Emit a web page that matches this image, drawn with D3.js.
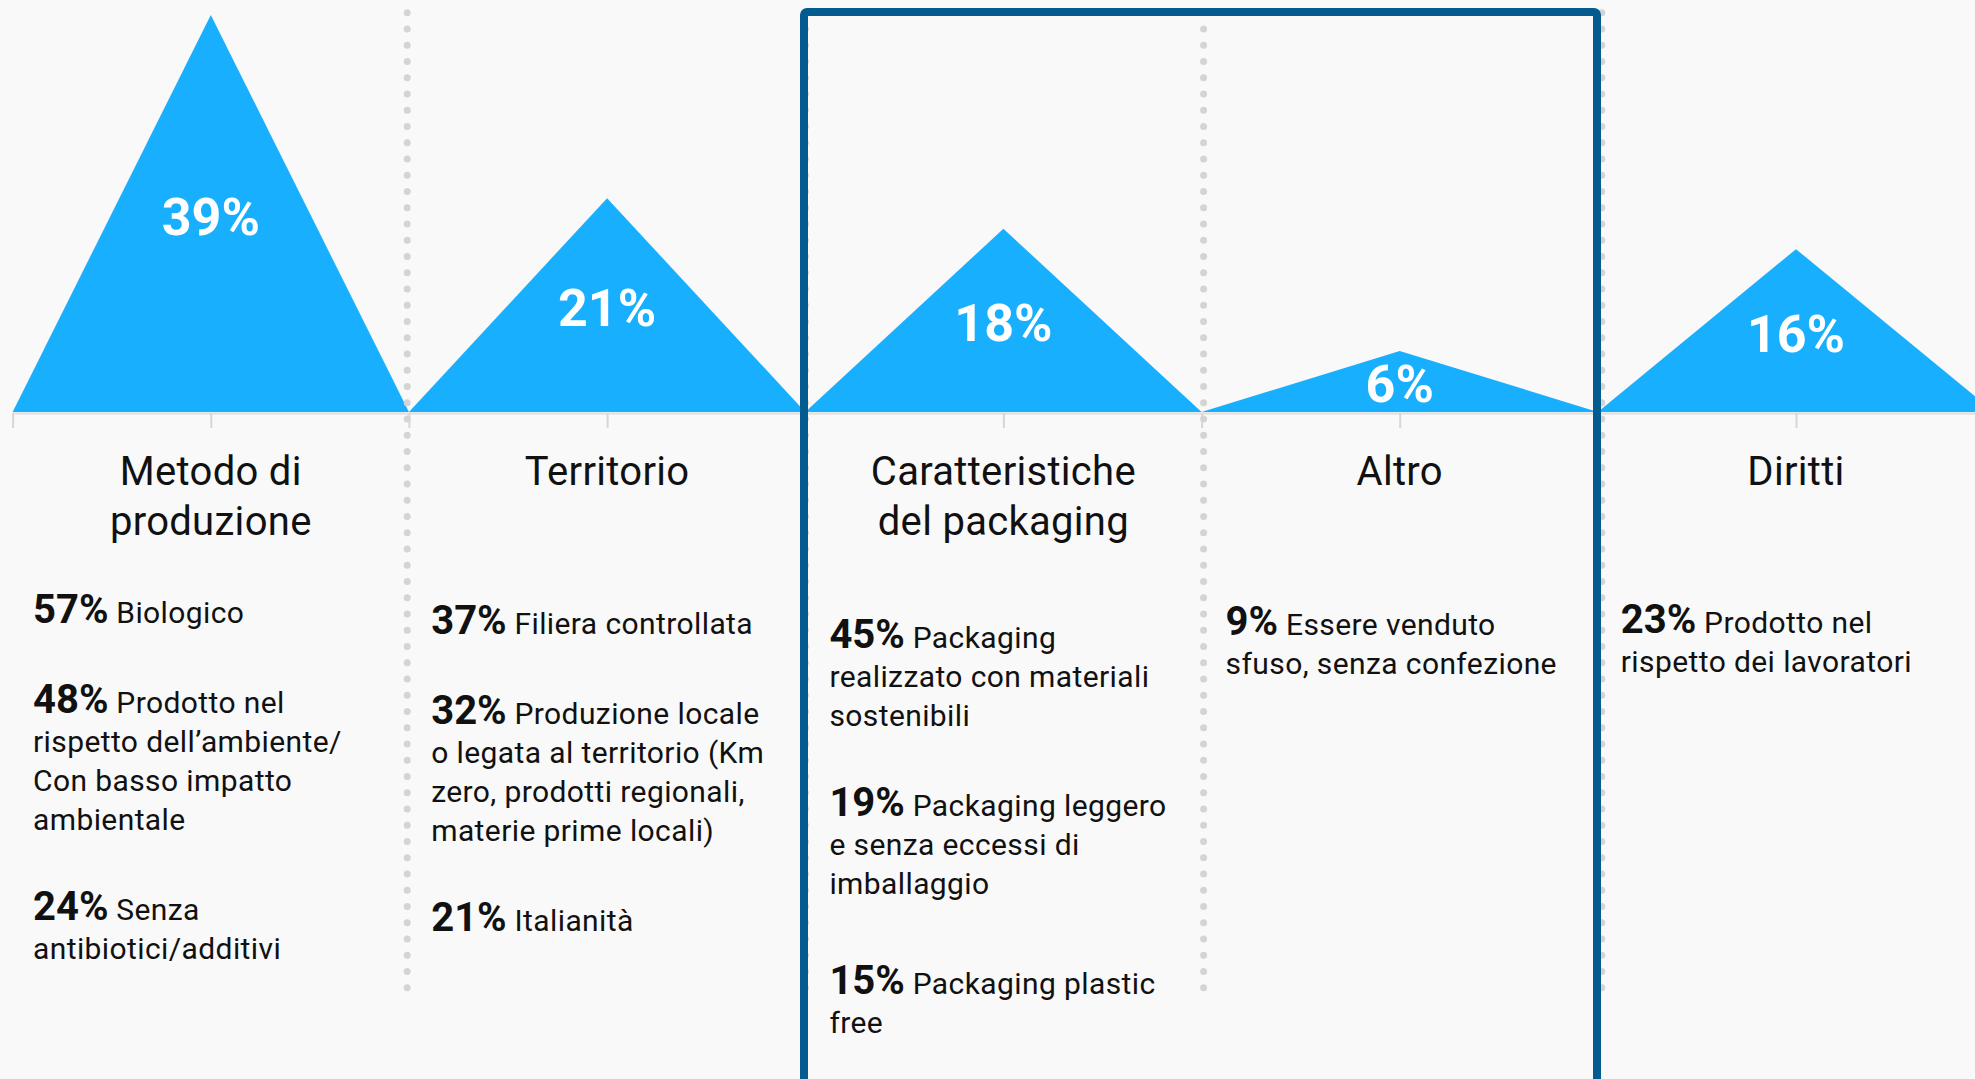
<!DOCTYPE html>
<html>
<head>
<meta charset="utf-8">
<script src="https://cdn.jsdelivr.net/npm/d3@7"></script>
<style>
  html, body { margin: 0; padding: 0; background: #f9f9f9; overflow: hidden; }
  svg { display: block; font-family: Roboto, "Noto Sans", sans-serif; }
</style>
</head>
<body>
<svg id="chart" width="1975" height="1079"></svg>
<script>
// ---------- DATA ----------
const categories = ["Metodo di produzione", "Territorio", "Caratteristiche del packaging", "Altro", "Diritti"];
const categoryLines = [["Metodo di", "produzione"], ["Territorio"], ["Caratteristiche", "del packaging"], ["Altro"], ["Diritti"]];
const values = [39, 21, 18, 6, 16];

const itemPercents = [
  [57, 48, 24],
  [37, 32, 21],
  [45, 19, 15],
  [9],
  [23]
];
const itemLines = [
  [["Biologico"],
   ["Prodotto nel", "rispetto dell’ambiente/", "Con basso impatto", "ambientale"],
   ["Senza", "antibiotici/additivi"]],
  [["Filiera controllata"],
   ["Produzione locale", "o legata al territorio (Km", "zero, prodotti regionali,", "materie prime locali)"],
   ["Italianità"]],
  [["Packaging", "realizzato con materiali", "sostenibili"],
   ["Packaging leggero", "e senza eccessi di", "imballaggio"],
   ["Packaging plastic", "free"]],
  [["Essere venduto", "sfuso, senza confezione"]],
  [["Prodotto nel", "rispetto dei lavoratori"]]
];

// ---------- LAYOUT ----------
const W = 1975, H = 1079;
const firstBaseline = [623, 634, 648, 635, 633];
const textPad = [24, 24, 24, 22, 19];
const lineH = 39, itemGap = 90;

const svg = d3.select("#chart");
svg.append("rect").attr("width", W).attr("height", H).attr("fill", "#f9f9f9");

const n = categories.length;
const x = d3.scaleLinear().domain([0, n]).range([12.65, 12.65 + n * 396.3]);
const y = d3.scaleLinear().domain([0, d3.max(values)]).range([412, 15]);
const col = d3.scaleLinear().domain([0, n]).range([9, 2000]);

// triangles (area)
const area = d3.area()
  .x(d => x(d.t))
  .y0(y(0))
  .y1(d => y(d.v));

const tri = values.map((v, i) => [{t: i, v: 0}, {t: i + 0.5, v: v}, {t: i + 1, v: 0}]);

svg.append("g").selectAll("path")
  .data(tri)
  .join("path")
  .attr("d", area)
  .attr("fill", "#19afff");

// axis
const axis = d3.axisBottom(x)
  .tickValues(d3.range(0, n + 0.01, 0.5))
  .tickSize(15)
  .tickSizeOuter(0)
  .tickFormat("");
const ag = svg.append("g").attr("transform", `translate(0,${y(0) + 1})`).call(axis);
ag.select(".domain").attr("stroke", "#dedede").attr("stroke-width", 2);
ag.selectAll(".tick line").attr("stroke", "#d6d6d6").attr("stroke-width", 2);

// percentage labels inside triangles
svg.append("g").selectAll("text")
  .data(values)
  .join("text")
  .attr("x", (d, i) => x(i + 0.5))
  .attr("y", d => (y(0) + y(d)) / 2 + 21)
  .attr("text-anchor", "middle")
  .attr("fill", "#ffffff")
  .attr("font-weight", 700)
  .attr("font-size", 52)
  .text(d => d + "%");

// dotted separators
svg.append("g").selectAll("line")
  .data(d3.range(1, n))
  .join("line")
  .attr("x1", d => col(d)).attr("x2", d => col(d))
  .attr("y1", 12.7).attr("y2", 990)
  .attr("stroke", "#d4d4d4")
  .attr("stroke-width", 7)
  .attr("stroke-linecap", "round")
  .attr("stroke-dasharray", "0 16.25");

// category labels
const cg = svg.append("g");
categoryLines.forEach((lines, i) => {
  lines.forEach((ln, j) => {
    cg.append("text")
      .attr("x", x(i + 0.5))
      .attr("y", 485 + j * 50)
      .attr("text-anchor", "middle")
      .attr("font-size", 40)
      .attr("fill", "#111")
      .attr("letter-spacing", 0.3)
      .text(ln);
  });
});

// item texts
const tg = svg.append("g");
itemPercents.forEach((pcts, i) => {
  let base = firstBaseline[i];
  const tx = col(i) + textPad[i];
  pcts.forEach((p, k) => {
    const lines = itemLines[i][k];
    const t = tg.append("text")
      .attr("x", tx).attr("y", base)
      .attr("fill", "#111");
    t.append("tspan")
      .attr("font-weight", 700)
      .attr("font-size", 40)
      .text(p + "%");
    t.append("tspan")
      .attr("font-size", 30)
      .attr("letter-spacing", 0.4)
      .text(" " + lines[0]);
    for (let j = 1; j < lines.length; j++) {
      tg.append("text")
        .attr("x", tx).attr("y", base + j * lineH)
        .attr("font-size", 30)
        .attr("letter-spacing", 0.4)
        .attr("fill", "#111")
        .text(lines[j]);
    }
    base += (lines.length - 1) * lineH + itemGap + (k === 1 && i === 2 ? 10 : 0);
  });
});

// highlight box around packaging + altro
svg.append("rect")
  .attr("x", 804).attr("y", 12)
  .attr("width", 793).attr("height", 1071)
  .attr("rx", 3)
  .attr("fill", "none")
  .attr("stroke", "#035b8f")
  .attr("stroke-width", 8);
</script>
</body>
</html>
